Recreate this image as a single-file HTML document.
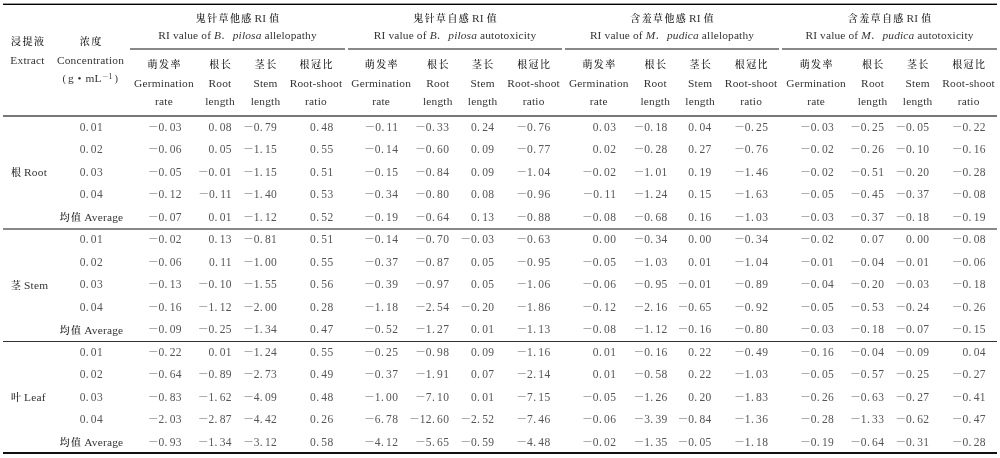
<!DOCTYPE html>
<html><head><meta charset="utf-8"><title>RI table</title>
<style>
html,body{margin:0;padding:0;background:#fff;}
#pg{position:relative;width:1000px;height:458px;overflow:hidden;background:#fff;color:#222;}
.hl{position:absolute;}
.t,.n{position:absolute;white-space:nowrap;line-height:20px;height:20px;}
.t{color:#333;font-family:'Liberation Serif','Noto Serif CJK SC',serif;font-size:11.4px;letter-spacing:0.2px;}
.k{font-family:'Liberation Serif','Noto Serif CJK SC',serif;font-weight:500;color:#111;font-size:10px;letter-spacing:1.4px;margin-right:-1.4px;}
.n{font-family:'Liberation Serif',serif;font-size:11.5px;letter-spacing:0.4px;color:#555;}
.c{width:400px;text-align:center;}
.r{width:400px;text-align:right;}
.l{text-align:left;}
em{font-style:italic;}
b.m{font-family:'Liberation Serif','Noto Serif CJK SC',serif;font-weight:normal;font-size:10.5px;position:relative;top:-1px;letter-spacing:0;font-feature-settings:normal;}
i.p{font-style:normal;letter-spacing:2.2px;}
.fp{font-family:'Liberation Serif','Noto Serif CJK SC',serif;font-style:normal;}
sup{font-size:8px;vertical-align:3px;line-height:0;}
.pp{font-size:10.5px;}
.sm{font-family:'Liberation Serif','Noto Serif CJK SC',serif;font-size:7px;}
.t2{letter-spacing:0.15px;}
</style></head><body>
<div id="pg">
<div class="hl" style="left:3px;width:994px;top:3px;height:1px;background:#9a9a9a"></div>
<div class="hl" style="left:3px;width:994px;top:4px;height:1px;background:#000"></div>
<div class="hl" style="left:130px;width:215px;top:48px;height:2px;background:#888"></div>
<div class="hl" style="left:348px;width:214px;top:48px;height:2px;background:#888"></div>
<div class="hl" style="left:565px;width:214px;top:48px;height:2px;background:#888"></div>
<div class="hl" style="left:782px;width:215px;top:48px;height:2px;background:#888"></div>
<div class="hl" style="left:3px;width:994px;top:115px;height:2px;background:#777"></div>
<div class="hl" style="left:3px;width:994px;top:228px;height:2px;background:#888"></div>
<div class="hl" style="left:3px;width:994px;top:341px;height:1px;background:#333"></div>
<div class="hl" style="left:3px;width:994px;top:452px;height:2px;background:#111"></div>
<div class="t c" style="left:37.50px;top:7.70px"><span class="k">鬼针草他感</span> RI <span class="k">值</span></div>
<div class="t t2 c" style="left:37.50px;top:25.30px">RI value of <em>B<span class="fp">．</span>pilosa</em> allelopathy</div>
<div class="t c" style="left:-36.00px;top:54.00px"><span class="k">萌发率</span></div>
<div class="t c" style="left:-36.00px;top:72.80px">Germination</div>
<div class="t c" style="left:-36.00px;top:90.60px">rate</div>
<div class="t c" style="left:20.00px;top:54.00px"><span class="k">根长</span></div>
<div class="t c" style="left:20.00px;top:72.80px">Root</div>
<div class="t c" style="left:20.00px;top:90.60px">length</div>
<div class="t c" style="left:65.50px;top:54.00px"><span class="k">茎长</span></div>
<div class="t c" style="left:65.50px;top:72.80px">Stem</div>
<div class="t c" style="left:65.50px;top:90.60px">length</div>
<div class="t c" style="left:116.00px;top:54.00px"><span class="k">根冠比</span></div>
<div class="t c" style="left:116.00px;top:72.80px">Root-shoot</div>
<div class="t c" style="left:116.00px;top:90.60px">ratio</div>
<div class="t c" style="left:255.00px;top:7.70px"><span class="k">鬼针草自感</span> RI <span class="k">值</span></div>
<div class="t t2 c" style="left:255.00px;top:25.30px">RI value of <em>B<span class="fp">．</span>pilosa</em> autotoxicity</div>
<div class="t c" style="left:181.20px;top:54.00px"><span class="k">萌发率</span></div>
<div class="t c" style="left:181.20px;top:72.80px">Germination</div>
<div class="t c" style="left:181.20px;top:90.60px">rate</div>
<div class="t c" style="left:237.80px;top:54.00px"><span class="k">根长</span></div>
<div class="t c" style="left:237.80px;top:72.80px">Root</div>
<div class="t c" style="left:237.80px;top:90.60px">length</div>
<div class="t c" style="left:282.70px;top:54.00px"><span class="k">茎长</span></div>
<div class="t c" style="left:282.70px;top:72.80px">Stem</div>
<div class="t c" style="left:282.70px;top:90.60px">length</div>
<div class="t c" style="left:333.60px;top:54.00px"><span class="k">根冠比</span></div>
<div class="t c" style="left:333.60px;top:72.80px">Root-shoot</div>
<div class="t c" style="left:333.60px;top:90.60px">ratio</div>
<div class="t c" style="left:472.00px;top:7.70px"><span class="k">含羞草他感</span> RI <span class="k">值</span></div>
<div class="t t2 c" style="left:472.00px;top:25.30px">RI value of <em>M<span class="fp">．</span>pudica</em> allelopathy</div>
<div class="t c" style="left:398.80px;top:54.00px"><span class="k">萌发率</span></div>
<div class="t c" style="left:398.80px;top:72.80px">Germination</div>
<div class="t c" style="left:398.80px;top:90.60px">rate</div>
<div class="t c" style="left:455.30px;top:54.00px"><span class="k">根长</span></div>
<div class="t c" style="left:455.30px;top:72.80px">Root</div>
<div class="t c" style="left:455.30px;top:90.60px">length</div>
<div class="t c" style="left:500.20px;top:54.00px"><span class="k">茎长</span></div>
<div class="t c" style="left:500.20px;top:72.80px">Stem</div>
<div class="t c" style="left:500.20px;top:90.60px">length</div>
<div class="t c" style="left:551.20px;top:54.00px"><span class="k">根冠比</span></div>
<div class="t c" style="left:551.20px;top:72.80px">Root-shoot</div>
<div class="t c" style="left:551.20px;top:90.60px">ratio</div>
<div class="t c" style="left:689.50px;top:7.70px"><span class="k">含羞草自感</span> RI <span class="k">值</span></div>
<div class="t t2 c" style="left:689.50px;top:25.30px">RI value of <em>M<span class="fp">．</span>pudica</em> autotoxicity</div>
<div class="t c" style="left:616.10px;top:54.00px"><span class="k">萌发率</span></div>
<div class="t c" style="left:616.10px;top:72.80px">Germination</div>
<div class="t c" style="left:616.10px;top:90.60px">rate</div>
<div class="t c" style="left:672.60px;top:54.00px"><span class="k">根长</span></div>
<div class="t c" style="left:672.60px;top:72.80px">Root</div>
<div class="t c" style="left:672.60px;top:90.60px">length</div>
<div class="t c" style="left:717.70px;top:54.00px"><span class="k">茎长</span></div>
<div class="t c" style="left:717.70px;top:72.80px">Stem</div>
<div class="t c" style="left:717.70px;top:90.60px">length</div>
<div class="t c" style="left:768.60px;top:54.00px"><span class="k">根冠比</span></div>
<div class="t c" style="left:768.60px;top:72.80px">Root-shoot</div>
<div class="t c" style="left:768.60px;top:90.60px">ratio</div>
<div class="t c" style="left:-172.50px;top:31.20px"><span class="k">浸提液</span></div>
<div class="t c" style="left:-172.50px;top:49.90px">Extract</div>
<div class="t c" style="left:-109.50px;top:31.20px"><span class="k">浓度</span></div>
<div class="t c" style="left:-109.50px;top:49.90px">Concentration</div>
<div class="t l" style="left:62.50px;top:67.80px"><span class="pp">(</span></div>
<div class="t l" style="left:68.00px;top:67.80px">g</div>
<div class="t l" style="left:77.50px;top:67.80px">•</div>
<div class="t l" style="left:85.50px;top:67.80px">mL</div>
<div class="t l" style="left:101.80px;top:67.80px"><sup><span class="sm">－</span><span style="margin-left:-0.6px">1</span></sup></div>
<div class="t l" style="left:114.50px;top:67.80px"><span class="pp">)</span></div>
<div class="n c" style="left:-108.60px;top:117.00px">0<i class="p">.</i>01</div>
<div class="n r" style="left:-218.00px;top:117.00px"><b class="m">－</b>0<i class="p">.</i>03</div>
<div class="n r" style="left:-168.00px;top:117.00px">0<i class="p">.</i>08</div>
<div class="n r" style="left:-122.80px;top:117.00px"><b class="m">－</b>0<i class="p">.</i>79</div>
<div class="n r" style="left:-66.40px;top:117.00px">0<i class="p">.</i>48</div>
<div class="n r" style="left:-1.60px;top:117.00px"><b class="m">－</b>0<i class="p">.</i>11</div>
<div class="n r" style="left:49.40px;top:117.00px"><b class="m">－</b>0<i class="p">.</i>33</div>
<div class="n r" style="left:94.50px;top:117.00px">0<i class="p">.</i>24</div>
<div class="n r" style="left:150.60px;top:117.00px"><b class="m">－</b>0<i class="p">.</i>76</div>
<div class="n r" style="left:216.40px;top:117.00px">0<i class="p">.</i>03</div>
<div class="n r" style="left:267.70px;top:117.00px"><b class="m">－</b>0<i class="p">.</i>18</div>
<div class="n r" style="left:311.70px;top:117.00px">0<i class="p">.</i>04</div>
<div class="n r" style="left:368.30px;top:117.00px"><b class="m">－</b>0<i class="p">.</i>25</div>
<div class="n r" style="left:434.20px;top:117.00px"><b class="m">－</b>0<i class="p">.</i>03</div>
<div class="n r" style="left:484.40px;top:117.00px"><b class="m">－</b>0<i class="p">.</i>25</div>
<div class="n r" style="left:529.50px;top:117.00px"><b class="m">－</b>0<i class="p">.</i>05</div>
<div class="n r" style="left:586.00px;top:117.00px"><b class="m">－</b>0<i class="p">.</i>22</div>
<div class="n c" style="left:-108.60px;top:139.47px">0<i class="p">.</i>02</div>
<div class="n r" style="left:-218.00px;top:139.47px"><b class="m">－</b>0<i class="p">.</i>06</div>
<div class="n r" style="left:-168.00px;top:139.47px">0<i class="p">.</i>05</div>
<div class="n r" style="left:-122.80px;top:139.47px"><b class="m">－</b>1<i class="p">.</i>15</div>
<div class="n r" style="left:-66.40px;top:139.47px">0<i class="p">.</i>55</div>
<div class="n r" style="left:-1.60px;top:139.47px"><b class="m">－</b>0<i class="p">.</i>14</div>
<div class="n r" style="left:49.40px;top:139.47px"><b class="m">－</b>0<i class="p">.</i>60</div>
<div class="n r" style="left:94.50px;top:139.47px">0<i class="p">.</i>09</div>
<div class="n r" style="left:150.60px;top:139.47px"><b class="m">－</b>0<i class="p">.</i>77</div>
<div class="n r" style="left:216.40px;top:139.47px">0<i class="p">.</i>02</div>
<div class="n r" style="left:267.70px;top:139.47px"><b class="m">－</b>0<i class="p">.</i>28</div>
<div class="n r" style="left:311.70px;top:139.47px">0<i class="p">.</i>27</div>
<div class="n r" style="left:368.30px;top:139.47px"><b class="m">－</b>0<i class="p">.</i>76</div>
<div class="n r" style="left:434.20px;top:139.47px"><b class="m">－</b>0<i class="p">.</i>02</div>
<div class="n r" style="left:484.40px;top:139.47px"><b class="m">－</b>0<i class="p">.</i>26</div>
<div class="n r" style="left:529.50px;top:139.47px"><b class="m">－</b>0<i class="p">.</i>10</div>
<div class="n r" style="left:586.00px;top:139.47px"><b class="m">－</b>0<i class="p">.</i>16</div>
<div class="t l" style="left:11.00px;top:162.34px"><span class="k">根</span> Root</div>
<div class="n c" style="left:-108.60px;top:161.94px">0<i class="p">.</i>03</div>
<div class="n r" style="left:-218.00px;top:161.94px"><b class="m">－</b>0<i class="p">.</i>05</div>
<div class="n r" style="left:-168.00px;top:161.94px"><b class="m">－</b>0<i class="p">.</i>01</div>
<div class="n r" style="left:-122.80px;top:161.94px"><b class="m">－</b>1<i class="p">.</i>15</div>
<div class="n r" style="left:-66.40px;top:161.94px">0<i class="p">.</i>51</div>
<div class="n r" style="left:-1.60px;top:161.94px"><b class="m">－</b>0<i class="p">.</i>15</div>
<div class="n r" style="left:49.40px;top:161.94px"><b class="m">－</b>0<i class="p">.</i>84</div>
<div class="n r" style="left:94.50px;top:161.94px">0<i class="p">.</i>09</div>
<div class="n r" style="left:150.60px;top:161.94px"><b class="m">－</b>1<i class="p">.</i>04</div>
<div class="n r" style="left:216.40px;top:161.94px"><b class="m">－</b>0<i class="p">.</i>02</div>
<div class="n r" style="left:267.70px;top:161.94px"><b class="m">－</b>1<i class="p">.</i>01</div>
<div class="n r" style="left:311.70px;top:161.94px">0<i class="p">.</i>19</div>
<div class="n r" style="left:368.30px;top:161.94px"><b class="m">－</b>1<i class="p">.</i>46</div>
<div class="n r" style="left:434.20px;top:161.94px"><b class="m">－</b>0<i class="p">.</i>02</div>
<div class="n r" style="left:484.40px;top:161.94px"><b class="m">－</b>0<i class="p">.</i>51</div>
<div class="n r" style="left:529.50px;top:161.94px"><b class="m">－</b>0<i class="p">.</i>20</div>
<div class="n r" style="left:586.00px;top:161.94px"><b class="m">－</b>0<i class="p">.</i>28</div>
<div class="n c" style="left:-108.60px;top:184.41px">0<i class="p">.</i>04</div>
<div class="n r" style="left:-218.00px;top:184.41px"><b class="m">－</b>0<i class="p">.</i>12</div>
<div class="n r" style="left:-168.00px;top:184.41px"><b class="m">－</b>0<i class="p">.</i>11</div>
<div class="n r" style="left:-122.80px;top:184.41px"><b class="m">－</b>1<i class="p">.</i>40</div>
<div class="n r" style="left:-66.40px;top:184.41px">0<i class="p">.</i>53</div>
<div class="n r" style="left:-1.60px;top:184.41px"><b class="m">－</b>0<i class="p">.</i>34</div>
<div class="n r" style="left:49.40px;top:184.41px"><b class="m">－</b>0<i class="p">.</i>80</div>
<div class="n r" style="left:94.50px;top:184.41px">0<i class="p">.</i>08</div>
<div class="n r" style="left:150.60px;top:184.41px"><b class="m">－</b>0<i class="p">.</i>96</div>
<div class="n r" style="left:216.40px;top:184.41px"><b class="m">－</b>0<i class="p">.</i>11</div>
<div class="n r" style="left:267.70px;top:184.41px"><b class="m">－</b>1<i class="p">.</i>24</div>
<div class="n r" style="left:311.70px;top:184.41px">0<i class="p">.</i>15</div>
<div class="n r" style="left:368.30px;top:184.41px"><b class="m">－</b>1<i class="p">.</i>63</div>
<div class="n r" style="left:434.20px;top:184.41px"><b class="m">－</b>0<i class="p">.</i>05</div>
<div class="n r" style="left:484.40px;top:184.41px"><b class="m">－</b>0<i class="p">.</i>45</div>
<div class="n r" style="left:529.50px;top:184.41px"><b class="m">－</b>0<i class="p">.</i>37</div>
<div class="n r" style="left:586.00px;top:184.41px"><b class="m">－</b>0<i class="p">.</i>08</div>
<div class="t c" style="left:-108.50px;top:207.28px"><span class="k">均值</span> Average</div>
<div class="n r" style="left:-218.00px;top:206.88px"><b class="m">－</b>0<i class="p">.</i>07</div>
<div class="n r" style="left:-168.00px;top:206.88px">0<i class="p">.</i>01</div>
<div class="n r" style="left:-122.80px;top:206.88px"><b class="m">－</b>1<i class="p">.</i>12</div>
<div class="n r" style="left:-66.40px;top:206.88px">0<i class="p">.</i>52</div>
<div class="n r" style="left:-1.60px;top:206.88px"><b class="m">－</b>0<i class="p">.</i>19</div>
<div class="n r" style="left:49.40px;top:206.88px"><b class="m">－</b>0<i class="p">.</i>64</div>
<div class="n r" style="left:94.50px;top:206.88px">0<i class="p">.</i>13</div>
<div class="n r" style="left:150.60px;top:206.88px"><b class="m">－</b>0<i class="p">.</i>88</div>
<div class="n r" style="left:216.40px;top:206.88px"><b class="m">－</b>0<i class="p">.</i>08</div>
<div class="n r" style="left:267.70px;top:206.88px"><b class="m">－</b>0<i class="p">.</i>68</div>
<div class="n r" style="left:311.70px;top:206.88px">0<i class="p">.</i>16</div>
<div class="n r" style="left:368.30px;top:206.88px"><b class="m">－</b>1<i class="p">.</i>03</div>
<div class="n r" style="left:434.20px;top:206.88px"><b class="m">－</b>0<i class="p">.</i>03</div>
<div class="n r" style="left:484.40px;top:206.88px"><b class="m">－</b>0<i class="p">.</i>37</div>
<div class="n r" style="left:529.50px;top:206.88px"><b class="m">－</b>0<i class="p">.</i>18</div>
<div class="n r" style="left:586.00px;top:206.88px"><b class="m">－</b>0<i class="p">.</i>19</div>
<div class="n c" style="left:-108.60px;top:229.35px">0<i class="p">.</i>01</div>
<div class="n r" style="left:-218.00px;top:229.35px"><b class="m">－</b>0<i class="p">.</i>02</div>
<div class="n r" style="left:-168.00px;top:229.35px">0<i class="p">.</i>13</div>
<div class="n r" style="left:-122.80px;top:229.35px"><b class="m">－</b>0<i class="p">.</i>81</div>
<div class="n r" style="left:-66.40px;top:229.35px">0<i class="p">.</i>51</div>
<div class="n r" style="left:-1.60px;top:229.35px"><b class="m">－</b>0<i class="p">.</i>14</div>
<div class="n r" style="left:49.40px;top:229.35px"><b class="m">－</b>0<i class="p">.</i>70</div>
<div class="n r" style="left:94.50px;top:229.35px"><b class="m">－</b>0<i class="p">.</i>03</div>
<div class="n r" style="left:150.60px;top:229.35px"><b class="m">－</b>0<i class="p">.</i>63</div>
<div class="n r" style="left:216.40px;top:229.35px">0<i class="p">.</i>00</div>
<div class="n r" style="left:267.70px;top:229.35px"><b class="m">－</b>0<i class="p">.</i>34</div>
<div class="n r" style="left:311.70px;top:229.35px">0<i class="p">.</i>00</div>
<div class="n r" style="left:368.30px;top:229.35px"><b class="m">－</b>0<i class="p">.</i>34</div>
<div class="n r" style="left:434.20px;top:229.35px"><b class="m">－</b>0<i class="p">.</i>02</div>
<div class="n r" style="left:484.40px;top:229.35px">0<i class="p">.</i>07</div>
<div class="n r" style="left:529.50px;top:229.35px">0<i class="p">.</i>00</div>
<div class="n r" style="left:586.00px;top:229.35px"><b class="m">－</b>0<i class="p">.</i>08</div>
<div class="n c" style="left:-108.60px;top:251.82px">0<i class="p">.</i>02</div>
<div class="n r" style="left:-218.00px;top:251.82px"><b class="m">－</b>0<i class="p">.</i>06</div>
<div class="n r" style="left:-168.00px;top:251.82px">0<i class="p">.</i>11</div>
<div class="n r" style="left:-122.80px;top:251.82px"><b class="m">－</b>1<i class="p">.</i>00</div>
<div class="n r" style="left:-66.40px;top:251.82px">0<i class="p">.</i>55</div>
<div class="n r" style="left:-1.60px;top:251.82px"><b class="m">－</b>0<i class="p">.</i>37</div>
<div class="n r" style="left:49.40px;top:251.82px"><b class="m">－</b>0<i class="p">.</i>87</div>
<div class="n r" style="left:94.50px;top:251.82px">0<i class="p">.</i>05</div>
<div class="n r" style="left:150.60px;top:251.82px"><b class="m">－</b>0<i class="p">.</i>95</div>
<div class="n r" style="left:216.40px;top:251.82px"><b class="m">－</b>0<i class="p">.</i>05</div>
<div class="n r" style="left:267.70px;top:251.82px"><b class="m">－</b>1<i class="p">.</i>03</div>
<div class="n r" style="left:311.70px;top:251.82px">0<i class="p">.</i>01</div>
<div class="n r" style="left:368.30px;top:251.82px"><b class="m">－</b>1<i class="p">.</i>04</div>
<div class="n r" style="left:434.20px;top:251.82px"><b class="m">－</b>0<i class="p">.</i>01</div>
<div class="n r" style="left:484.40px;top:251.82px"><b class="m">－</b>0<i class="p">.</i>04</div>
<div class="n r" style="left:529.50px;top:251.82px"><b class="m">－</b>0<i class="p">.</i>01</div>
<div class="n r" style="left:586.00px;top:251.82px"><b class="m">－</b>0<i class="p">.</i>06</div>
<div class="t l" style="left:11.00px;top:274.69px"><span class="k">茎</span> Stem</div>
<div class="n c" style="left:-108.60px;top:274.29px">0<i class="p">.</i>03</div>
<div class="n r" style="left:-218.00px;top:274.29px"><b class="m">－</b>0<i class="p">.</i>13</div>
<div class="n r" style="left:-168.00px;top:274.29px"><b class="m">－</b>0<i class="p">.</i>10</div>
<div class="n r" style="left:-122.80px;top:274.29px"><b class="m">－</b>1<i class="p">.</i>55</div>
<div class="n r" style="left:-66.40px;top:274.29px">0<i class="p">.</i>56</div>
<div class="n r" style="left:-1.60px;top:274.29px"><b class="m">－</b>0<i class="p">.</i>39</div>
<div class="n r" style="left:49.40px;top:274.29px"><b class="m">－</b>0<i class="p">.</i>97</div>
<div class="n r" style="left:94.50px;top:274.29px">0<i class="p">.</i>05</div>
<div class="n r" style="left:150.60px;top:274.29px"><b class="m">－</b>1<i class="p">.</i>06</div>
<div class="n r" style="left:216.40px;top:274.29px"><b class="m">－</b>0<i class="p">.</i>06</div>
<div class="n r" style="left:267.70px;top:274.29px"><b class="m">－</b>0<i class="p">.</i>95</div>
<div class="n r" style="left:311.70px;top:274.29px"><b class="m">－</b>0<i class="p">.</i>01</div>
<div class="n r" style="left:368.30px;top:274.29px"><b class="m">－</b>0<i class="p">.</i>89</div>
<div class="n r" style="left:434.20px;top:274.29px"><b class="m">－</b>0<i class="p">.</i>04</div>
<div class="n r" style="left:484.40px;top:274.29px"><b class="m">－</b>0<i class="p">.</i>20</div>
<div class="n r" style="left:529.50px;top:274.29px"><b class="m">－</b>0<i class="p">.</i>03</div>
<div class="n r" style="left:586.00px;top:274.29px"><b class="m">－</b>0<i class="p">.</i>18</div>
<div class="n c" style="left:-108.60px;top:296.76px">0<i class="p">.</i>04</div>
<div class="n r" style="left:-218.00px;top:296.76px"><b class="m">－</b>0<i class="p">.</i>16</div>
<div class="n r" style="left:-168.00px;top:296.76px"><b class="m">－</b>1<i class="p">.</i>12</div>
<div class="n r" style="left:-122.80px;top:296.76px"><b class="m">－</b>2<i class="p">.</i>00</div>
<div class="n r" style="left:-66.40px;top:296.76px">0<i class="p">.</i>28</div>
<div class="n r" style="left:-1.60px;top:296.76px"><b class="m">－</b>1<i class="p">.</i>18</div>
<div class="n r" style="left:49.40px;top:296.76px"><b class="m">－</b>2<i class="p">.</i>54</div>
<div class="n r" style="left:94.50px;top:296.76px"><b class="m">－</b>0<i class="p">.</i>20</div>
<div class="n r" style="left:150.60px;top:296.76px"><b class="m">－</b>1<i class="p">.</i>86</div>
<div class="n r" style="left:216.40px;top:296.76px"><b class="m">－</b>0<i class="p">.</i>12</div>
<div class="n r" style="left:267.70px;top:296.76px"><b class="m">－</b>2<i class="p">.</i>16</div>
<div class="n r" style="left:311.70px;top:296.76px"><b class="m">－</b>0<i class="p">.</i>65</div>
<div class="n r" style="left:368.30px;top:296.76px"><b class="m">－</b>0<i class="p">.</i>92</div>
<div class="n r" style="left:434.20px;top:296.76px"><b class="m">－</b>0<i class="p">.</i>05</div>
<div class="n r" style="left:484.40px;top:296.76px"><b class="m">－</b>0<i class="p">.</i>53</div>
<div class="n r" style="left:529.50px;top:296.76px"><b class="m">－</b>0<i class="p">.</i>24</div>
<div class="n r" style="left:586.00px;top:296.76px"><b class="m">－</b>0<i class="p">.</i>26</div>
<div class="t c" style="left:-108.50px;top:319.63px"><span class="k">均值</span> Average</div>
<div class="n r" style="left:-218.00px;top:319.23px"><b class="m">－</b>0<i class="p">.</i>09</div>
<div class="n r" style="left:-168.00px;top:319.23px"><b class="m">－</b>0<i class="p">.</i>25</div>
<div class="n r" style="left:-122.80px;top:319.23px"><b class="m">－</b>1<i class="p">.</i>34</div>
<div class="n r" style="left:-66.40px;top:319.23px">0<i class="p">.</i>47</div>
<div class="n r" style="left:-1.60px;top:319.23px"><b class="m">－</b>0<i class="p">.</i>52</div>
<div class="n r" style="left:49.40px;top:319.23px"><b class="m">－</b>1<i class="p">.</i>27</div>
<div class="n r" style="left:94.50px;top:319.23px">0<i class="p">.</i>01</div>
<div class="n r" style="left:150.60px;top:319.23px"><b class="m">－</b>1<i class="p">.</i>13</div>
<div class="n r" style="left:216.40px;top:319.23px"><b class="m">－</b>0<i class="p">.</i>08</div>
<div class="n r" style="left:267.70px;top:319.23px"><b class="m">－</b>1<i class="p">.</i>12</div>
<div class="n r" style="left:311.70px;top:319.23px"><b class="m">－</b>0<i class="p">.</i>16</div>
<div class="n r" style="left:368.30px;top:319.23px"><b class="m">－</b>0<i class="p">.</i>80</div>
<div class="n r" style="left:434.20px;top:319.23px"><b class="m">－</b>0<i class="p">.</i>03</div>
<div class="n r" style="left:484.40px;top:319.23px"><b class="m">－</b>0<i class="p">.</i>18</div>
<div class="n r" style="left:529.50px;top:319.23px"><b class="m">－</b>0<i class="p">.</i>07</div>
<div class="n r" style="left:586.00px;top:319.23px"><b class="m">－</b>0<i class="p">.</i>15</div>
<div class="n c" style="left:-108.60px;top:341.70px">0<i class="p">.</i>01</div>
<div class="n r" style="left:-218.00px;top:341.70px"><b class="m">－</b>0<i class="p">.</i>22</div>
<div class="n r" style="left:-168.00px;top:341.70px">0<i class="p">.</i>01</div>
<div class="n r" style="left:-122.80px;top:341.70px"><b class="m">－</b>1<i class="p">.</i>24</div>
<div class="n r" style="left:-66.40px;top:341.70px">0<i class="p">.</i>55</div>
<div class="n r" style="left:-1.60px;top:341.70px"><b class="m">－</b>0<i class="p">.</i>25</div>
<div class="n r" style="left:49.40px;top:341.70px"><b class="m">－</b>0<i class="p">.</i>98</div>
<div class="n r" style="left:94.50px;top:341.70px">0<i class="p">.</i>09</div>
<div class="n r" style="left:150.60px;top:341.70px"><b class="m">－</b>1<i class="p">.</i>16</div>
<div class="n r" style="left:216.40px;top:341.70px">0<i class="p">.</i>01</div>
<div class="n r" style="left:267.70px;top:341.70px"><b class="m">－</b>0<i class="p">.</i>16</div>
<div class="n r" style="left:311.70px;top:341.70px">0<i class="p">.</i>22</div>
<div class="n r" style="left:368.30px;top:341.70px"><b class="m">－</b>0<i class="p">.</i>49</div>
<div class="n r" style="left:434.20px;top:341.70px"><b class="m">－</b>0<i class="p">.</i>16</div>
<div class="n r" style="left:484.40px;top:341.70px"><b class="m">－</b>0<i class="p">.</i>04</div>
<div class="n r" style="left:529.50px;top:341.70px"><b class="m">－</b>0<i class="p">.</i>09</div>
<div class="n r" style="left:586.00px;top:341.70px">0<i class="p">.</i>04</div>
<div class="n c" style="left:-108.60px;top:364.17px">0<i class="p">.</i>02</div>
<div class="n r" style="left:-218.00px;top:364.17px"><b class="m">－</b>0<i class="p">.</i>64</div>
<div class="n r" style="left:-168.00px;top:364.17px"><b class="m">－</b>0<i class="p">.</i>89</div>
<div class="n r" style="left:-122.80px;top:364.17px"><b class="m">－</b>2<i class="p">.</i>73</div>
<div class="n r" style="left:-66.40px;top:364.17px">0<i class="p">.</i>49</div>
<div class="n r" style="left:-1.60px;top:364.17px"><b class="m">－</b>0<i class="p">.</i>37</div>
<div class="n r" style="left:49.40px;top:364.17px"><b class="m">－</b>1<i class="p">.</i>91</div>
<div class="n r" style="left:94.50px;top:364.17px">0<i class="p">.</i>07</div>
<div class="n r" style="left:150.60px;top:364.17px"><b class="m">－</b>2<i class="p">.</i>14</div>
<div class="n r" style="left:216.40px;top:364.17px">0<i class="p">.</i>01</div>
<div class="n r" style="left:267.70px;top:364.17px"><b class="m">－</b>0<i class="p">.</i>58</div>
<div class="n r" style="left:311.70px;top:364.17px">0<i class="p">.</i>22</div>
<div class="n r" style="left:368.30px;top:364.17px"><b class="m">－</b>1<i class="p">.</i>03</div>
<div class="n r" style="left:434.20px;top:364.17px"><b class="m">－</b>0<i class="p">.</i>05</div>
<div class="n r" style="left:484.40px;top:364.17px"><b class="m">－</b>0<i class="p">.</i>57</div>
<div class="n r" style="left:529.50px;top:364.17px"><b class="m">－</b>0<i class="p">.</i>25</div>
<div class="n r" style="left:586.00px;top:364.17px"><b class="m">－</b>0<i class="p">.</i>27</div>
<div class="t l" style="left:11.00px;top:387.04px"><span class="k">叶</span> Leaf</div>
<div class="n c" style="left:-108.60px;top:386.64px">0<i class="p">.</i>03</div>
<div class="n r" style="left:-218.00px;top:386.64px"><b class="m">－</b>0<i class="p">.</i>83</div>
<div class="n r" style="left:-168.00px;top:386.64px"><b class="m">－</b>1<i class="p">.</i>62</div>
<div class="n r" style="left:-122.80px;top:386.64px"><b class="m">－</b>4<i class="p">.</i>09</div>
<div class="n r" style="left:-66.40px;top:386.64px">0<i class="p">.</i>48</div>
<div class="n r" style="left:-1.60px;top:386.64px"><b class="m">－</b>1<i class="p">.</i>00</div>
<div class="n r" style="left:49.40px;top:386.64px"><b class="m">－</b>7<i class="p">.</i>10</div>
<div class="n r" style="left:94.50px;top:386.64px">0<i class="p">.</i>01</div>
<div class="n r" style="left:150.60px;top:386.64px"><b class="m">－</b>7<i class="p">.</i>15</div>
<div class="n r" style="left:216.40px;top:386.64px"><b class="m">－</b>0<i class="p">.</i>05</div>
<div class="n r" style="left:267.70px;top:386.64px"><b class="m">－</b>1<i class="p">.</i>26</div>
<div class="n r" style="left:311.70px;top:386.64px">0<i class="p">.</i>20</div>
<div class="n r" style="left:368.30px;top:386.64px"><b class="m">－</b>1<i class="p">.</i>83</div>
<div class="n r" style="left:434.20px;top:386.64px"><b class="m">－</b>0<i class="p">.</i>26</div>
<div class="n r" style="left:484.40px;top:386.64px"><b class="m">－</b>0<i class="p">.</i>63</div>
<div class="n r" style="left:529.50px;top:386.64px"><b class="m">－</b>0<i class="p">.</i>27</div>
<div class="n r" style="left:586.00px;top:386.64px"><b class="m">－</b>0<i class="p">.</i>41</div>
<div class="n c" style="left:-108.60px;top:409.11px">0<i class="p">.</i>04</div>
<div class="n r" style="left:-218.00px;top:409.11px"><b class="m">－</b>2<i class="p">.</i>03</div>
<div class="n r" style="left:-168.00px;top:409.11px"><b class="m">－</b>2<i class="p">.</i>87</div>
<div class="n r" style="left:-122.80px;top:409.11px"><b class="m">－</b>4<i class="p">.</i>42</div>
<div class="n r" style="left:-66.40px;top:409.11px">0<i class="p">.</i>26</div>
<div class="n r" style="left:-1.60px;top:409.11px"><b class="m">－</b>6<i class="p">.</i>78</div>
<div class="n r" style="left:49.40px;top:409.11px"><b class="m">－</b>12<i class="p">.</i>60</div>
<div class="n r" style="left:94.50px;top:409.11px"><b class="m">－</b>2<i class="p">.</i>52</div>
<div class="n r" style="left:150.60px;top:409.11px"><b class="m">－</b>7<i class="p">.</i>46</div>
<div class="n r" style="left:216.40px;top:409.11px"><b class="m">－</b>0<i class="p">.</i>06</div>
<div class="n r" style="left:267.70px;top:409.11px"><b class="m">－</b>3<i class="p">.</i>39</div>
<div class="n r" style="left:311.70px;top:409.11px"><b class="m">－</b>0<i class="p">.</i>84</div>
<div class="n r" style="left:368.30px;top:409.11px"><b class="m">－</b>1<i class="p">.</i>36</div>
<div class="n r" style="left:434.20px;top:409.11px"><b class="m">－</b>0<i class="p">.</i>28</div>
<div class="n r" style="left:484.40px;top:409.11px"><b class="m">－</b>1<i class="p">.</i>33</div>
<div class="n r" style="left:529.50px;top:409.11px"><b class="m">－</b>0<i class="p">.</i>62</div>
<div class="n r" style="left:586.00px;top:409.11px"><b class="m">－</b>0<i class="p">.</i>47</div>
<div class="t c" style="left:-108.50px;top:431.98px"><span class="k">均值</span> Average</div>
<div class="n r" style="left:-218.00px;top:431.58px"><b class="m">－</b>0<i class="p">.</i>93</div>
<div class="n r" style="left:-168.00px;top:431.58px"><b class="m">－</b>1<i class="p">.</i>34</div>
<div class="n r" style="left:-122.80px;top:431.58px"><b class="m">－</b>3<i class="p">.</i>12</div>
<div class="n r" style="left:-66.40px;top:431.58px">0<i class="p">.</i>58</div>
<div class="n r" style="left:-1.60px;top:431.58px"><b class="m">－</b>4<i class="p">.</i>12</div>
<div class="n r" style="left:49.40px;top:431.58px"><b class="m">－</b>5<i class="p">.</i>65</div>
<div class="n r" style="left:94.50px;top:431.58px"><b class="m">－</b>0<i class="p">.</i>59</div>
<div class="n r" style="left:150.60px;top:431.58px"><b class="m">－</b>4<i class="p">.</i>48</div>
<div class="n r" style="left:216.40px;top:431.58px"><b class="m">－</b>0<i class="p">.</i>02</div>
<div class="n r" style="left:267.70px;top:431.58px"><b class="m">－</b>1<i class="p">.</i>35</div>
<div class="n r" style="left:311.70px;top:431.58px"><b class="m">－</b>0<i class="p">.</i>05</div>
<div class="n r" style="left:368.30px;top:431.58px"><b class="m">－</b>1<i class="p">.</i>18</div>
<div class="n r" style="left:434.20px;top:431.58px"><b class="m">－</b>0<i class="p">.</i>19</div>
<div class="n r" style="left:484.40px;top:431.58px"><b class="m">－</b>0<i class="p">.</i>64</div>
<div class="n r" style="left:529.50px;top:431.58px"><b class="m">－</b>0<i class="p">.</i>31</div>
<div class="n r" style="left:586.00px;top:431.58px"><b class="m">－</b>0<i class="p">.</i>28</div>
</div>
</body></html>
